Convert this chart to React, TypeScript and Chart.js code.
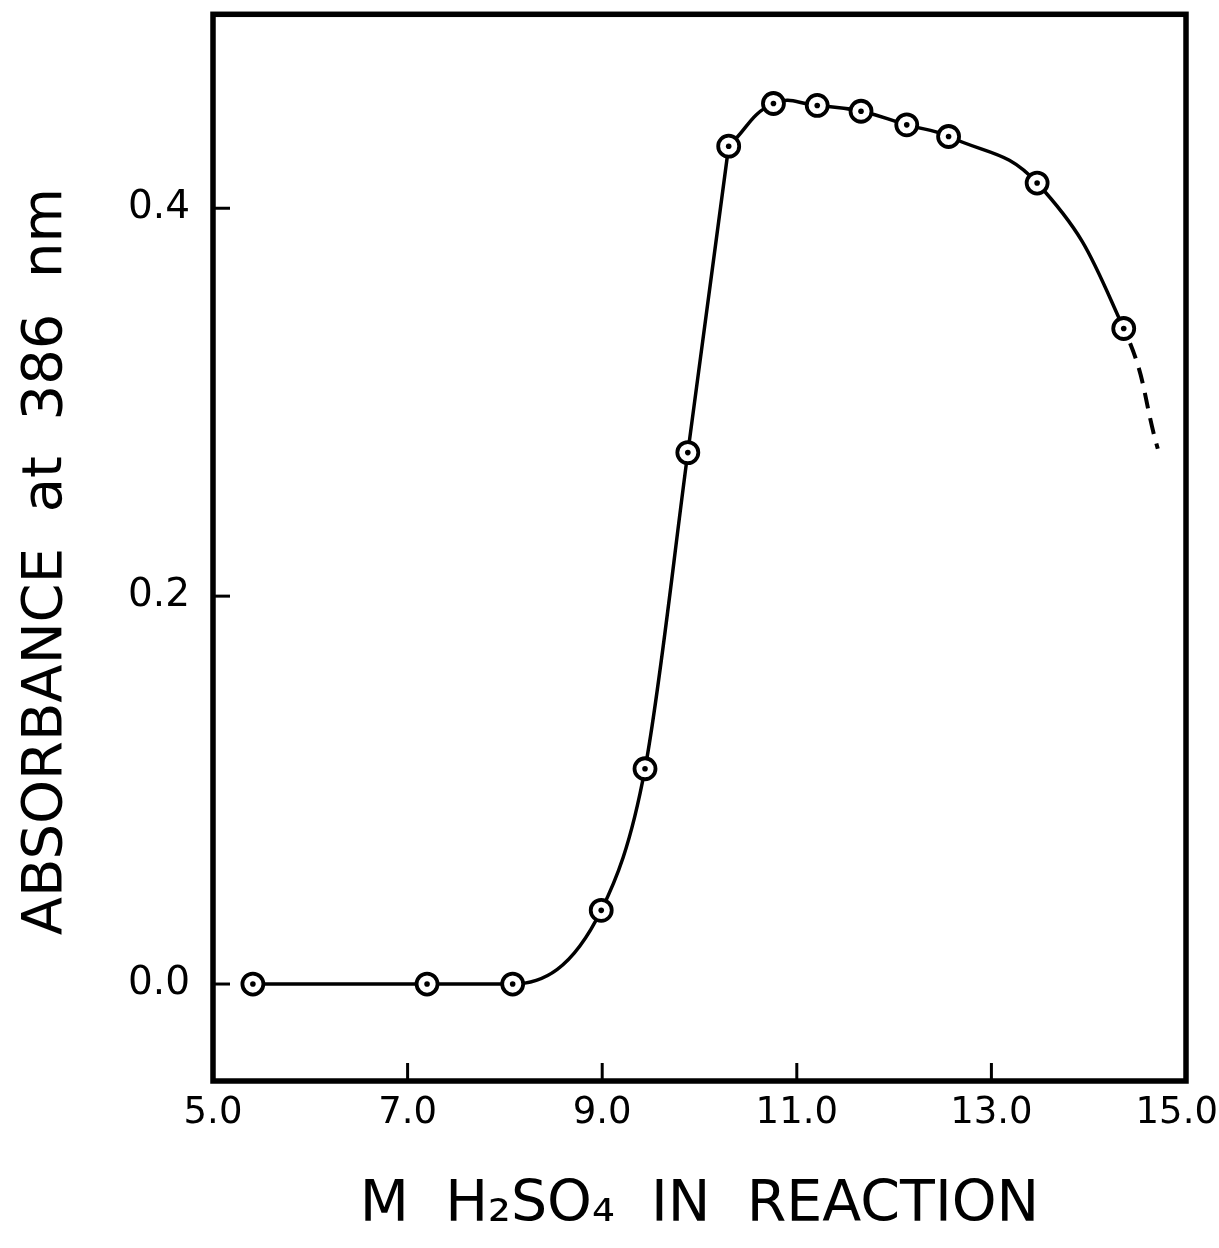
import React, { useEffect, useRef } from "react";
import { Chart, registerables } from "chart.js";

Chart.register(...registerables);

// Data
const concentration = [5.41, 7.2, 8.08, 8.99, 9.44, 9.88, 10.3, 10.76, 11.21, 11.66, 12.13, 12.56, 13.47, 14.36];
const absorbance = [0.0, 0.0, 0.0, 0.038, 0.111, 0.274, 0.432, 0.454, 0.453, 0.45, 0.443, 0.437, 0.413, 0.338];
const extrapolatedX = [14.71];
const extrapolatedY = [0.276];
const xTickValues = [5, 7, 9, 11, 13, 15];
const yTickValues = [0.0, 0.2, 0.4];
const xTitle = "M  H\u2082SO\u2084  IN  REACTION";
const yTitle = "ABSORBANCE  at  386  nm\u2002";
const plateauStart = 6; // index where the curve turns over

const FONT = "'DejaVu Sans', sans-serif";

const framePlugin = {
  id: "frame",
  afterDatasetsDraw(chart: any) {
    const { ctx, chartArea } = chart;
    const { left, right, top, bottom } = chartArea;
    const xs = chart.scales.x;
    const ys = chart.scales.y;
    ctx.save();
    ctx.strokeStyle = "#000";
    ctx.lineWidth = 5.5;
    ctx.lineCap = "square";
    ctx.strokeRect(left, top, right - left, bottom - top);
    ctx.lineWidth = 3;
    ctx.lineCap = "butt";
    xTickValues.forEach((v) => {
      if (v === xs.min || v === xs.max) return;
      const px = xs.getPixelForValue(v);
      ctx.beginPath();
      ctx.moveTo(px, bottom);
      ctx.lineTo(px, bottom - 18);
      ctx.stroke();
    });
    yTickValues.forEach((v) => {
      const py = ys.getPixelForValue(v);
      ctx.beginPath();
      ctx.moveTo(left, py);
      ctx.lineTo(left + 17, py);
      ctx.stroke();
    });
    ctx.restore();
  },
};

export default function App() {
  const ref = useRef<HTMLCanvasElement | null>(null);

  useEffect(() => {
    if (!ref.current) return;
    const curve = concentration.map((x, i) => ({ x, y: absorbance[i] }));
    const rise = curve.slice(0, plateauStart + 1);
    const extension = extrapolatedX.map((x, i) => ({ x, y: extrapolatedY[i] }));
    const plateau = curve.slice(plateauStart).concat(extension);
    const lastMeasured = plateau.length - 1 - extension.length;
    const chart = new Chart(ref.current, {
      type: "line",
      data: {
        datasets: [
          {
            label: "centres",
            data: curve,
            showLine: false,
            pointRadius: 2.8,
            pointBackgroundColor: "#000",
            pointBorderWidth: 0,
            order: 0,
          },
          {
            label: "markers",
            data: curve,
            showLine: false,
            pointRadius: 10.5,
            pointBorderWidth: 3.8,
            pointBorderColor: "#000",
            pointBackgroundColor: "#fff",
            order: 1,
          },
          {
            label: "rise",
            data: rise,
            borderColor: "#000",
            borderWidth: 3.5,
            cubicInterpolationMode: "monotone",
            pointRadius: 0,
            fill: false,
            order: 2,
          },
          {
            label: "plateau",
            data: plateau,
            borderColor: "#000",
            borderWidth: 3.5,
            tension: 0.45,
            pointRadius: 0,
            fill: false,
            order: 2,
            segment: {
              borderDash: (ctx: any) => (ctx.p0DataIndex >= lastMeasured ? [16, 10] : undefined),
              borderDashOffset: (ctx: any) => (ctx.p0DataIndex >= lastMeasured ? -16 : 0),
              borderWidth: (ctx: any) => (ctx.p0DataIndex >= lastMeasured ? 4 : 3.5),
            },
          },
        ],
      },
      options: {
        responsive: false,
        animation: false,
        devicePixelRatio: 1,
        layout: { padding: { top: 14, right: 33, left: 0, bottom: 0 } },
        plugins: {
          legend: { display: false },
          tooltip: { enabled: false },
        },
        scales: {
          x: {
            type: "linear",
            min: 5,
            max: 15,
            afterFit: (s: any) => {
              s.height = 167;
              s.paddingLeft = 0;
              s.paddingRight = 0;
            },
            afterBuildTicks: (s: any) => {
              s.ticks = xTickValues.map((v) => ({ value: v }));
            },
            grid: { display: false, drawTicks: false },
            border: { display: false },
            ticks: {
              color: "#000",
              padding: 10,
              maxRotation: 0,
              autoSkip: false,
              font: { family: FONT, size: 37 },
              callback: (v: any) => (Number(v) === 15 ? Number(v).toFixed(1) + "\u2002" : Number(v).toFixed(1)),
            },
            title: {
              display: true,
              text: xTitle,
              color: "#000",
              font: { family: FONT, size: 57 },
              padding: { top: 0, bottom: 8 },
            },
          },
          y: {
            type: "linear",
            min: -0.05,
            max: 0.5,
            afterFit: (s: any) => {
              s.width = 213;
              s.paddingTop = 0;
              s.paddingBottom = 0;
            },
            afterBuildTicks: (s: any) => {
              s.ticks = yTickValues.map((v) => ({ value: v }));
            },
            grid: { display: false, drawTicks: false },
            border: { display: false },
            ticks: {
              color: "#000",
              padding: 23,
              autoSkip: false,
              font: { family: FONT, size: 39 },
              callback: (v: any) => Number(v).toFixed(1),
            },
            title: {
              display: true,
              text: yTitle,
              color: "#000",
              font: { family: FONT, size: 56 },
              padding: { top: 13, bottom: 0 },
            },
          },
        },
      },
      plugins: [framePlugin],
    });
    return () => chart.destroy();
  }, []);

  return (
    <div style={{ position: "absolute", left: 0, top: 0, width: 1219, height: 1248, background: "#fff" }}>
      <canvas ref={ref} width={1219} height={1248} style={{ display: "block" }} />
    </div>
  );
}
